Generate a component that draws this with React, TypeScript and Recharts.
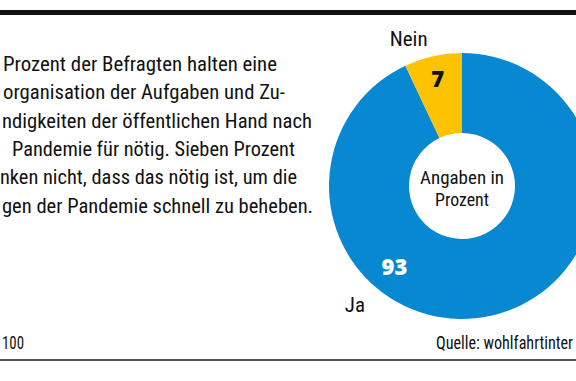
import { Cell, Pie, PieChart } from "recharts";

const answers = ["Ja", "Nein"];
const shares = [93, 7];
const sliceColors = ["#0788d0", "#fdc300"];

const introLines = [
  "Prozent der Befragten halten eine",
  "organisation der Aufgaben und Zu-",
  "ndigkeiten der öffentlichen Hand nach",
  "Pandemie für nötig. Sieben Prozent",
  "nken nicht, dass das nötig ist, um die",
  "gen der Pandemie schnell zu beheben.",
];
const centerLines = ["Angaben in", "Prozent"];
const footLeft = "100";
const source = "Quelle: wohlfahrtinter";

const data = answers.map((name, i) => ({ name, value: shares[i] }));

// horizontal extent of each intro line (clipped in the original)
const lineX = [3, 3, 2, 12, 0, 2];
const lineEnd = [277, 285, 312, 295, 297, 313];

const FONT = "'Liberation Sans Narrow', 'Roboto Condensed', Roboto, Arial, sans-serif";
const RAD = Math.PI / 180;

function SliceLabel(props: any) {
  const { cx, cy, midAngle, index, value, name } = props;
  // Ja value sits lower left, not on its mid angle
  const valAngle = index === 0 ? 230 : midAngle;
  const valR = index === 0 ? 105 : 111;
  const nameAngle = index === 0 ? 228 : 110;
  const nameR = index === 0 ? 160 : 156;
  const vx = cx + valR * Math.cos(valAngle * RAD);
  const vy = cy - valR * Math.sin(valAngle * RAD);
  const nx = cx + nameR * Math.cos(nameAngle * RAD);
  const ny = cy - nameR * Math.sin(nameAngle * RAD);
  return (
    <g>
      <text
        x={vx}
        y={vy}
        textAnchor="middle"
        dominantBaseline="central"
        fontFamily="'Open Sans', 'Noto Sans', sans-serif"
        fontWeight={800}
        fontSize={22}
        fill={index === 0 ? "#ffffff" : "#111111"}
      >
        {value}
      </text>
      <text
        x={nx}
        y={ny}
        textAnchor="middle"
        dominantBaseline="central"
        fontFamily={FONT}
        fontSize={21}
        fill="#111"
      >
        {name}
      </text>
    </g>
  );
}

export default function App() {
  return (
    <div
      style={{
        position: "absolute",
        left: 0,
        top: 0,
        width: 576,
        height: 381,
        background: "#fff",
        overflow: "hidden",
      }}
    >
      <svg width={576} height={381} style={{ position: "absolute", left: 0, top: 0 }}>
        <rect x={0} y={10} width={576} height={5} fill="#111" />
        <rect x={0} y={359} width={576} height={2} fill="#555" />
        {introLines.map((t, i) => (
          <text
            key={i}
            x={lineX[i]}
            y={71 + i * 28.3}
            fontFamily={FONT}
            fontSize={20}
            fill="#111"
            textLength={lineEnd[i] - lineX[i]}
            lengthAdjust="spacingAndGlyphs"
          >
            {t}
          </text>
        ))}
        <text x={2} y={349} fontFamily={FONT} fontSize={18} fill="#111" textLength={22} lengthAdjust="spacingAndGlyphs">
          {footLeft}
        </text>
        <text
          x={573}
          y={349}
          textAnchor="end"
          fontFamily={FONT}
          fontSize={18}
          fill="#111"
          textLength={137}
          lengthAdjust="spacingAndGlyphs"
        >
          {source}
        </text>
        {centerLines.map((t, i) => (
          <text
            key={t}
            x={462}
            y={184 + i * 22}
            textAnchor="middle"
            fontFamily={FONT}
            fontSize={19}
            fill="#111"
            textLength={i === 0 ? 84 : 54}
            lengthAdjust="spacingAndGlyphs"
          >
            {t}
          </text>
        ))}
      </svg>
      <div style={{ position: "absolute", left: 0, top: 0 }}>
        <PieChart width={576} height={381} margin={{ top: 0, right: 0, bottom: 0, left: 0 }}>
          <Pie
            data={data}
            dataKey="value"
            nameKey="name"
            cx={462}
            cy={186}
            innerRadius={53}
            outerRadius={133}
            startAngle={90}
            endAngle={-270}
            stroke="none"
            label={SliceLabel}
            labelLine={false}
            isAnimationActive={false}
          >
            {data.map((d, i) => (
              <Cell key={d.name} fill={sliceColors[i]} />
            ))}
          </Pie>
        </PieChart>
      </div>
    </div>
  );
}
